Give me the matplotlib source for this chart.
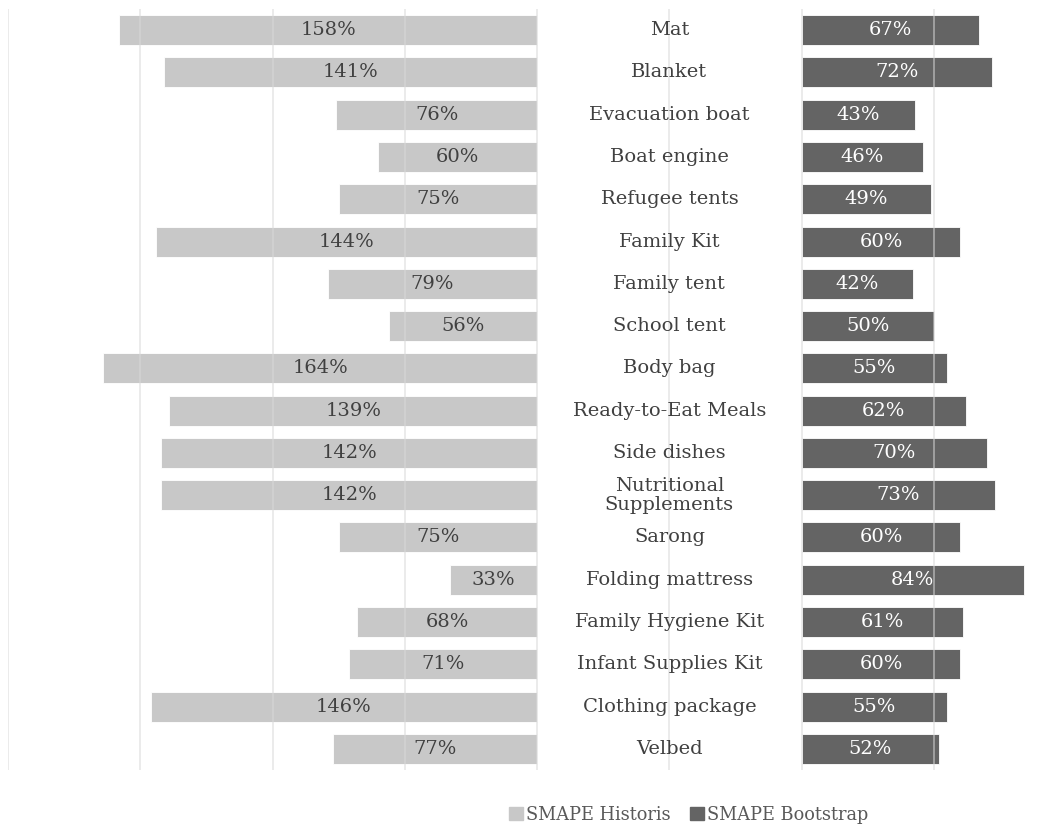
import matplotlib.pyplot as plt
from matplotlib.patches import Patch

items = ["Mat", "Blanket", "Evacuation boat", "Boat engine", "Refugee tents",
         "Family Kit", "Family tent", "School tent", "Body bag",
         "Ready-to-Eat Meals", "Side dishes", "Nutritional\nSupplements",
         "Sarong", "Folding mattress", "Family Hygiene Kit",
         "Infant Supplies Kit", "Clothing package", "Velbed"]
smape_historis = [158, 141, 76, 60, 75, 144, 79, 56, 164, 139, 142, 142,
                  75, 33, 68, 71, 146, 77]
smape_bootstrap = [67, 72, 43, 46, 49, 60, 42, 50, 55, 62, 70, 73,
                   60, 84, 61, 60, 55, 52]

# gap between the two halves, used for the item names
label_gap = 100

plt.rcParams['font.family'] = ['DejaVu Serif']
light = '#c8c8c8'
dark = '#646464'
text_col = '#404040'

fig = plt.figure(figsize=(10.54, 8.26), dpi=100)
ax = fig.add_axes([8 / 1054, 56 / 826, 1045 / 1054, 761 / 826])

ys = list(range(len(items)))
ax.barh(ys, [-v for v in smape_historis], height=0.71, color=light,
        edgecolor='white', linewidth=0.6, zorder=2)
ax.barh(ys, smape_bootstrap, left=label_gap, height=0.71, color=dark,
        edgecolor='white', linewidth=0.6, zorder=2)

for y, name, h, b in zip(ys, items, smape_historis, smape_bootstrap):
    ax.text(-h / 2, y, f"{h}%", ha='center', va='center', fontsize=14,
            color=text_col, zorder=4)
    ax.text(label_gap + b / 2, y, f"{b}%", ha='center', va='center',
            fontsize=14, color='white', zorder=4)
    ax.text(label_gap / 2, y, name, ha='center', va='center', fontsize=14,
            color=text_col, linespacing=1.05, zorder=4)

for gx in range(-200, 201, 50):
    ax.axvline(gx, color='#d9d9d9', linewidth=1.2, alpha=0.6, zorder=3)

ax.set_xlim(-200, 195)
ax.set_ylim(len(items) - 0.5, -0.5)
ax.set_xticks([])
ax.set_yticks([])
for s in ax.spines.values():
    s.set_visible(False)

handles = [Patch(color=light, label='SMAPE Historis'),
           Patch(color=dark, label='SMAPE Bootstrap')]
fig.legend(handles=handles, loc='center', bbox_to_anchor=(689 / 1054, 1 - 815 / 826),
           ncol=2, frameon=False, fontsize=12.8, handlelength=0.75,
           handleheight=0.75, handletextpad=0.2, columnspacing=1.1,
           labelcolor='#595959')

fig.savefig('out.png', dpi=100)
